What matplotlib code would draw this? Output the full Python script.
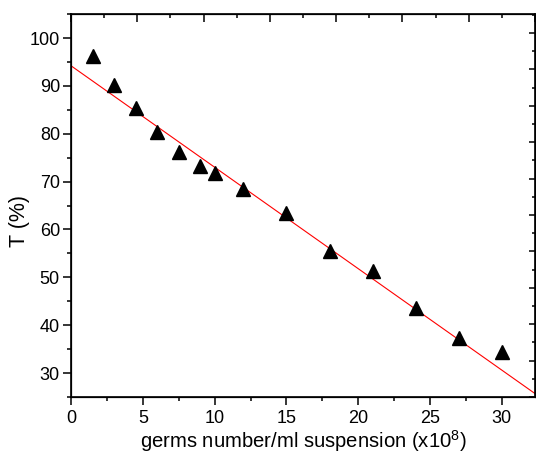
import matplotlib
matplotlib.use('Agg')
import matplotlib.pyplot as plt
import numpy as np
from matplotlib.ticker import MultipleLocator

plt.rcParams['font.family'] = ['Liberation Sans', 'DejaVu Sans']
plt.rcParams['mathtext.fontset'] = 'custom'
plt.rcParams['mathtext.rm'] = 'Liberation Sans'
plt.rcParams['mathtext.default'] = 'regular'

# data
germs = [1.5, 3, 4.5, 6, 7.5, 9, 10, 12, 15, 18, 21, 24, 27, 30]
transmittance = [96.2, 90.2, 85.3, 80.3, 76.2, 73.3, 71.9, 68.4, 63.4, 55.4, 51.4, 43.5, 37.3, 34.5]

# linear fit line (intercept, slope)
fit_intercept = 94.2
fit_slope = -2.12

x_max = 32.3

fig = plt.figure(figsize=(5.36, 4.54), dpi=100)
ax = fig.add_axes([0.1325, 0.1256, 0.8655, 0.8434])

x_line = np.array([0, x_max])
ax.plot(x_line, fit_intercept + fit_slope * x_line, color='red', lw=0.8, zorder=2)
ax.plot(germs, transmittance, linestyle='none', marker='^', ms=10, color='black', zorder=3)

ax.set_xlim(0, x_max)
ax.set_ylim(25, 105)
ax.xaxis.set_major_locator(MultipleLocator(5))
ax.xaxis.set_minor_locator(MultipleLocator(2.5))
ax.yaxis.set_major_locator(MultipleLocator(10))
ax.yaxis.set_minor_locator(MultipleLocator(5))
ax.tick_params(which='major', direction='out', length=5.5, width=1.1, labelsize=13, pad=2.5, top=False, right=False)
ax.tick_params(axis='x', which='major', pad=4)
ax.tick_params(which='minor', direction='out', length=3, width=1.1, top=False, right=False)
ax.set_xlabel(r'germs number/ml suspension (x10$^8$)', fontsize=14.6, labelpad=0.5)
ax.set_ylabel('T (%)', fontsize=15.5)
ax.yaxis.set_label_coords(-0.088, 0.46)
for s in ax.spines.values():
    s.set_linewidth(1.2)

# top and right axes with their own tick spacing, no labels
ax_top = ax.twiny()
ax_top.set_xlim(0, 7.0)
ax_top.xaxis.set_major_locator(MultipleLocator(1))
ax_top.xaxis.set_minor_locator(MultipleLocator(0.5))
ax_top.tick_params(which='major', direction='in', length=5.5, width=1.1, labeltop=False)
ax_top.tick_params(which='minor', direction='in', length=3, width=1.1)

ax_right = ax.twinx()
ax_right.set_ylim(0, 10.52)
ax_right.yaxis.set_major_locator(MultipleLocator(1))
ax_right.yaxis.set_minor_locator(MultipleLocator(0.5))
ax_right.tick_params(which='major', direction='in', length=4, width=1.1, labelright=False)
ax_right.tick_params(which='minor', direction='in', length=2, width=1.1)

fig.savefig('out.png', dpi=100)
